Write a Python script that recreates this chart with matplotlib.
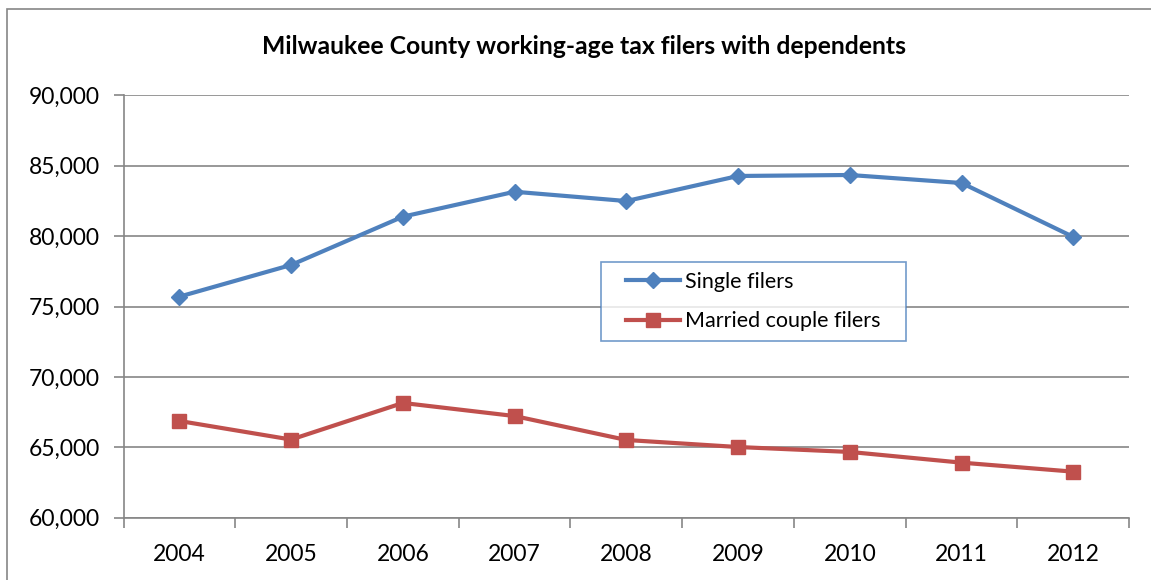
import matplotlib
matplotlib.use("Agg")
from matplotlib import pyplot as plt
from matplotlib.ticker import FuncFormatter
from matplotlib.patches import Rectangle
from matplotlib.lines import Line2D
from matplotlib.legend_handler import HandlerLine2D

plt.rcParams['font.family'] = ['Lato', 'DejaVu Sans']

# data
years = ['2004', '2005', '2006', '2007', '2008', '2009', '2010', '2011', '2012']
single_filers = [75700, 77950, 81380, 83150, 82490, 84270, 84340, 83770, 79940]
married_filers = [66870, 65550, 68150, 67220, 65520, 65020, 64670, 63910, 63270]

blue = '#4F81BD'
red = '#C0504D'
grid_gray = '#868686'

fig = plt.figure(figsize=(11.51, 5.8), dpi=100)
ax = fig.add_axes([0.1073, 0.1074, 0.8738, 0.7283])

# outer chart frame
fig.patches.append(Rectangle((7 / 1151, -0.05), 1.2, 1 - 9 / 580 + 0.05,
                             transform=fig.transFigure, fill=False,
                             edgecolor=grid_gray, linewidth=1.2))

x = list(range(len(years)))
ax.plot(x, single_filers, color=blue, linewidth=3, marker='D', markersize=8,
        label='Single filers')
ax.plot(x, married_filers, color=red, linewidth=3, marker='s', markersize=10,
        label='Married couple filers')

ax.set_xlim(-0.5, len(years) - 0.5)
ax.set_ylim(60000, 90000)
ax.set_yticks(range(60000, 90001, 5000))
ax.yaxis.set_major_formatter(FuncFormatter(lambda v, p: f'{int(v):,}'))
ax.set_xticks(x)
ax.set_xticklabels(years)
ax.set_xticks([i - 0.5 for i in range(len(years) + 1)], minor=True)

ax.grid(axis='y', color=grid_gray, linewidth=1.2)
ax.set_axisbelow(True)
for s in ['top', 'right']:
    ax.spines[s].set_visible(False)
for s in ['left', 'bottom']:
    ax.spines[s].set_color(grid_gray)
    ax.spines[s].set_linewidth(1.2)

ax.tick_params(axis='x', which='major', length=0, pad=19, labelsize=16.5)
ax.tick_params(axis='x', which='minor', length=7, color=grid_gray, width=1.2)
ax.tick_params(axis='y', length=7, color=grid_gray, width=1.2, pad=10, labelsize=16.5)

# legend with some room left of the handles, like the original box
pad_handler = HandlerLine2D(xpad=0.72)
handles, labels = ax.get_legend_handles_labels()
leg = ax.legend(handles, labels, loc='upper left',
                bbox_to_anchor=(0.4745, 0.4207, 0.3033, 0.1839), mode='expand',
                fontsize=15.5, frameon=True, fancybox=False, handlelength=3.23,
                borderpad=0.45, labelspacing=0.9, handletextpad=0.23,
                borderaxespad=0, handler_map={Line2D: pad_handler})
leg.get_frame().set_edgecolor(blue)
leg.get_frame().set_linewidth(1.2)

fig.text(0.507, 0.92, 'Milwaukee County working-age tax filers with dependents',
         ha='center', va='center', fontsize=17.8, fontweight='bold')

fig.savefig('out.png', dpi=100)
